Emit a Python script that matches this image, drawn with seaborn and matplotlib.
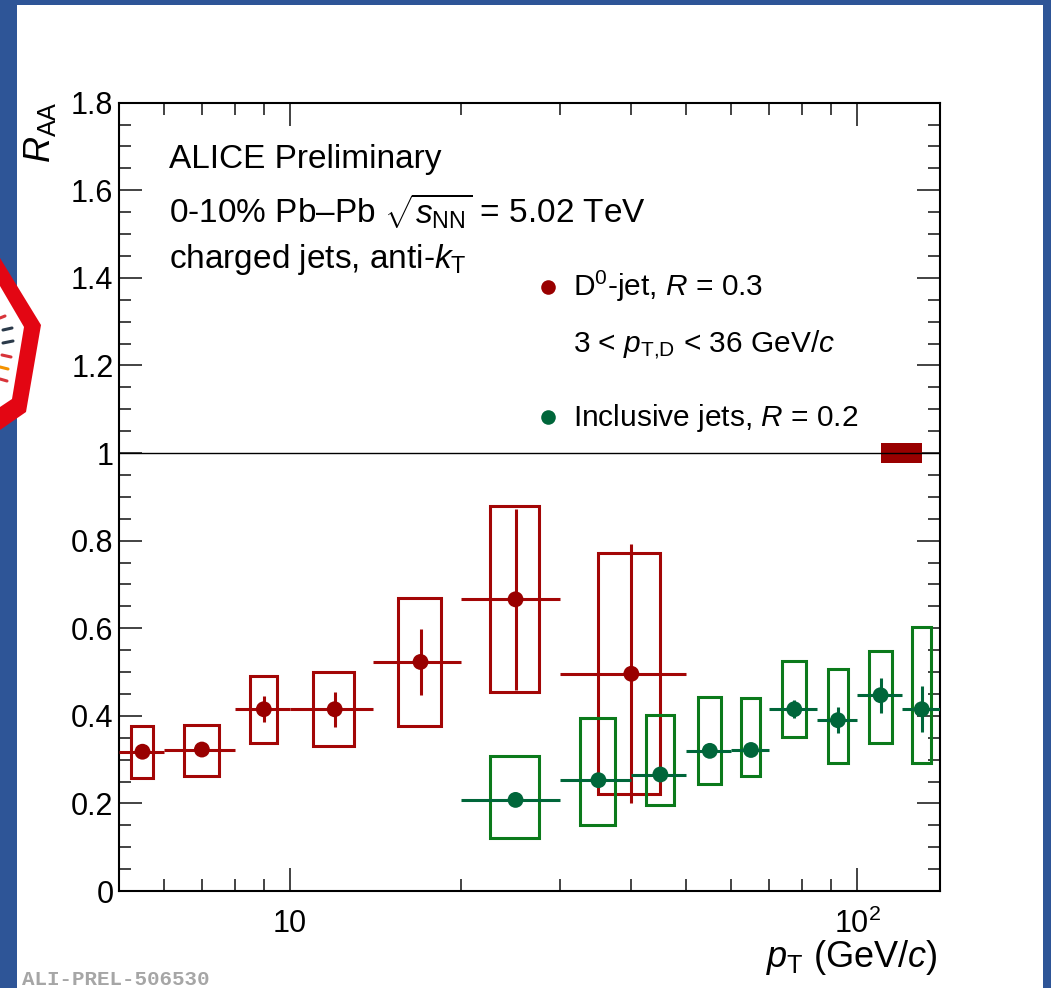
import numpy as np
import pandas as pd
import matplotlib
matplotlib.use("Agg")
import matplotlib.pyplot as plt
import seaborn as sns
from matplotlib.patches import Rectangle, Polygon
from matplotlib.lines import Line2D
from matplotlib.transforms import Affine2D
from matplotlib.ticker import FixedLocator, FixedFormatter, MultipleLocator, FuncFormatter, NullFormatter

# ---------------- data ----------------
# D0-tagged jets, R = 0.3
d0_pt = [5.5, 7, 9, 12, 17, 25, 40]
d0_pt_err = [0.5, 1, 1, 2, 3, 5, 10]
d0_raa = [0.318, 0.323, 0.415, 0.415, 0.523, 0.666, 0.496]
d0_stat = [0.012, 0.012, 0.030, 0.040, 0.075, 0.206, 0.296]
d0_sys_lo = [0.257, 0.263, 0.339, 0.332, 0.377, 0.454, 0.221]
d0_sys_hi = [0.376, 0.380, 0.491, 0.500, 0.669, 0.879, 0.772]

# inclusive jets, R = 0.2
inc_pt = [25, 35, 45, 55, 65, 77.5, 92.5, 110, 130]
inc_pt_err = [5, 5, 5, 5, 5, 7.5, 7.5, 10, 10]
inc_raa = [0.208, 0.253, 0.266, 0.320, 0.322, 0.415, 0.390, 0.447, 0.415]
inc_stat = [0.010, 0.010, 0.010, 0.010, 0.012, 0.020, 0.030, 0.040, 0.053]
inc_sys_lo = [0.121, 0.151, 0.196, 0.244, 0.263, 0.351, 0.293, 0.337, 0.292]
inc_sys_hi = [0.308, 0.394, 0.403, 0.444, 0.440, 0.525, 0.506, 0.549, 0.602]

# normalisation uncertainty box
norm_pt = [110, 130]
norm_raa = [0.978, 1.022]

x_major = [10, 100]
x_major_labels = ["10", "$10^{2}$"]
x_minor = [6, 7, 8, 9, 20, 30, 40, 50, 60, 70, 80, 90]
y_major = [0, 0.2, 0.4, 0.6, 0.8, 1.0, 1.2, 1.4, 1.6, 1.8]

# ---------------- style ----------------
sns.set_style("ticks")
plt.rcParams['font.family'] = ['Liberation Sans', 'DejaVu Sans']
plt.rcParams['mathtext.fontset'] = 'custom'
plt.rcParams['mathtext.rm'] = 'Liberation Sans'
plt.rcParams['mathtext.it'] = 'Liberation Sans:italic'
plt.rcParams['mathtext.bf'] = 'Liberation Sans:bold'
plt.rcParams['mathtext.sf'] = 'Liberation Sans'
plt.rcParams['text.color'] = 'black'
plt.rcParams['xtick.labelcolor'] = 'black'
plt.rcParams['ytick.labelcolor'] = 'black'

RED_M = '#990000'
RED_L = '#a30606'
GRN_M = '#00663a'
GRN_L = '#0b7a1b'

W, H = 1051, 988
fig = plt.figure(figsize=(W / 100, H / 100), dpi=100)
fig.patch.set_facecolor('#2E5597')
px = Affine2D().scale(1 / W, -1 / H).translate(0, 1) + fig.transFigure

# white slide area
fig.add_artist(Rectangle((17, 5), 1026, 990, transform=px, facecolor='white',
                         edgecolor='none', zorder=-2))

# partial ALICE logo at left edge
fig.add_artist(Polygon([(-5, 252), (0, 258), (41, 325), (26, 412), (0, 430), (-5, 430)],
                       closed=True, transform=px, facecolor='#e30613', edgecolor='none', zorder=-1))
fig.add_artist(Polygon([(-5, 283), (0, 286), (24, 327), (12, 399), (0, 407), (-5, 407)],
                       closed=True, transform=px, facecolor='white', edgecolor='none', zorder=-1))
for (x0, y0, x1, y1, c) in [(0, 318, 5, 316, '#d8343a'), (3, 330, 12, 328, '#2b3a4a'),
                            (3, 343, 13, 341, '#2b3a4a'), (2, 355, 11, 357, '#d8343a'),
                            (0, 367, 8, 369, '#f39200'), (0, 379, 7, 381, '#d8343a')]:
    fig.add_artist(Line2D([x0, x1], [y0, y1], transform=px, color=c, lw=2.2, zorder=-1))

ax = fig.add_axes([119 / W, 1 - 891 / H, (940 - 119) / W, (891 - 102.7) / H])
ax.set_facecolor('white')

# systematic boxes (half the bin width)
ax.bar(d0_pt, np.subtract(d0_sys_hi, d0_sys_lo), bottom=d0_sys_lo, width=d0_pt_err,
       fill=False, edgecolor=RED_L, linewidth=2.2, zorder=2)
ax.errorbar(d0_pt, d0_raa, xerr=d0_pt_err, yerr=d0_stat, fmt='none', ecolor=RED_L,
            elinewidth=2.2, capsize=0, zorder=3)

ax.bar(inc_pt, np.subtract(inc_sys_hi, inc_sys_lo), bottom=inc_sys_lo, width=inc_pt_err,
       fill=False, edgecolor=GRN_L, linewidth=2.2, zorder=4)
ax.errorbar(inc_pt, inc_raa, xerr=inc_pt_err, yerr=inc_stat, fmt='none', ecolor=GRN_M,
            elinewidth=2.2, capsize=0, zorder=5)

df = pd.concat([
    pd.DataFrame({'pt': d0_pt, 'raa': d0_raa, 'series': 'D0-jet'}),
    pd.DataFrame({'pt': inc_pt, 'raa': inc_raa, 'series': 'Inclusive'}),
])
sns.scatterplot(data=df, x='pt', y='raa', hue='series',
                palette={'D0-jet': RED_M, 'Inclusive': GRN_M},
                s=130, linewidth=0, legend=False, ax=ax, zorder=6)

# normalisation uncertainty
ax.fill_between(norm_pt, norm_raa[0], norm_raa[1], color=RED_M, linewidth=0, zorder=2)
ax.axhline(1.0, color='black', lw=1.0, zorder=7)

# axes / ticks
ax.set_xscale('log')
ax.set_xlim(5, 140)
ax.set_ylim(0, 1.8)
ax.xaxis.set_major_locator(FixedLocator(x_major))
ax.xaxis.set_major_formatter(FixedFormatter(x_major_labels))
ax.xaxis.set_minor_locator(FixedLocator(x_minor))
ax.xaxis.set_minor_formatter(NullFormatter())
ax.yaxis.set_major_locator(FixedLocator(y_major))
ax.yaxis.set_major_formatter(FuncFormatter(lambda v, p: f"{v:g}"))
ax.yaxis.set_minor_locator(MultipleLocator(0.05))
ax.tick_params(which='both', direction='in', top=True, right=True, color='#222222',
               width=1.2, labelsize=22, labelcolor='black')
ax.tick_params(which='major', length=16.5)
ax.tick_params(which='minor', length=8.5)
ax.tick_params(axis='x', which='major', pad=13)
ax.tick_params(axis='y', which='major', pad=4)
for sp in ax.spines.values():
    sp.set_visible(True)
    sp.set_linewidth(1.5)
    sp.set_color('black')
ax.set_xlabel('')
ax.set_ylabel('')

# axis titles
fig.text(40, 101, r"$R_{\rm AA}$", transform=px, rotation=90, ha='center', va='top',
         fontsize=26)
fig.text(938, 967, r"$p_{\rm T}$ (GeV/$c$)", transform=px, ha='right', va='baseline',
         fontsize=26)

# ALICE labels
fig.text(169, 167.7, "ALICE Preliminary", transform=px, ha='left', va='baseline', fontsize=24)
fig.text(169, 223.3, "0-10% Pb\u2013Pb " + r"$\sqrt{s_{\rm NN}}$ = 5.02 TeV",
         transform=px, ha='left', va='baseline', fontsize=24)
fig.text(169, 267.5, r"charged jets, anti-$k_{\rm T}$", transform=px, ha='left',
         va='baseline', fontsize=24)

# legend
fig.add_artist(Line2D([547.7], [286.7], transform=px, marker='o', markersize=10.5,
                      color=RED_M, markeredgewidth=0, linestyle='none'))
fig.add_artist(Line2D([547.7], [416.7], transform=px, marker='o', markersize=10.5,
                      color=GRN_M, markeredgewidth=0, linestyle='none'))
fig.text(572.7, 296, r"D$^{0}$-jet, $R$ = 0.3", transform=px, ha='left', va='baseline',
         fontsize=21.5)
fig.text(572.7, 351.7, r"3 < $p_{\rm T{,}D}$ < 36 GeV/$c$", transform=px, ha='left',
         va='baseline', fontsize=21.5)
fig.text(572.7, 426, r"Inclusive jets, $R$ = 0.2", transform=px, ha='left', va='baseline',
         fontsize=21.5)

fig.text(22, 985, "ALI-PREL-506530", transform=px, ha='left', va='baseline',
         fontsize=15, family='Liberation Mono', weight='bold', color='#a6a6a6')

fig.savefig('out.png', dpi=100, facecolor=fig.get_facecolor())
